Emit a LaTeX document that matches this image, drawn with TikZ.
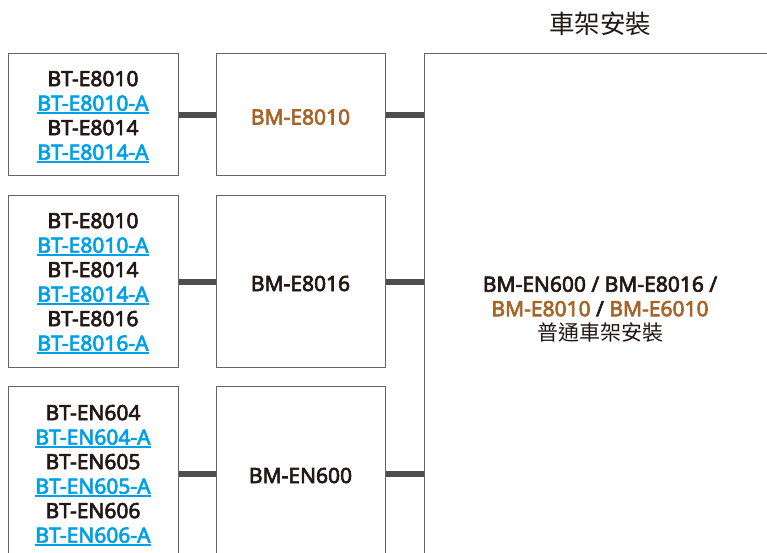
\documentclass[tikz,border=0pt]{standalone}
\usepackage{fontspec}
\setmainfont{Noto Sans}
\newfontfamily\lat{Noto Sans}[FakeBold=3]
\newfontfamily\cjk{Noto Sans CJK TC}
\definecolor{tblue}{RGB}{0,160,233}
\definecolor{tbrown}{RGB}{166,100,40}
\definecolor{ttext}{RGB}{35,24,21}
\definecolor{bordergray}{RGB}{100,100,100}
\definecolor{conncol}{RGB}{77,77,77}
\newcommand\lnk[1]{\setbox0\hbox{#1}\rlap{\raisebox{-3.4pt}{\rule{\wd0}{2pt}}}\box0}
\newcommand\bl[1]{\textcolor{tblue}{\lnk{#1}}}
\newcommand\br[1]{\textcolor{tbrown}{#1}}
\begin{document}
\begin{tikzpicture}[x=1pt,y=1pt,
  box/.style={draw=bordergray, line width=1pt, fill=white, inner sep=0pt,
    align=center, font=\fontsize{21}{24.5}\selectfont\lat, text=ttext},
  conn/.style={draw=conncol, line width=6pt},
  txt/.style={inner sep=0pt, align=center, font=\fontsize{21}{24.5}\selectfont\lat, text=ttext, yshift=-2pt}]
\useasboundingbox (0,0) rectangle (767,552);
\clip (0,0) rectangle (767,552);
\node[font=\fontsize{25.5}{28}\selectfont\cjk, text=ttext] (title) at (600,528) {車架安裝};
% left column
\node[box, minimum width=170, minimum height=122] (a1) at (93,437) {};
\node[box, minimum width=170, minimum height=171] (a2) at (93,270.5) {};
\node[box, minimum width=170, minimum height=175] (a3) at (93,78.5) {};
\node[txt] (ta1) at (a1.center) {BT-E8010\\\bl{BT-E8010-A}\\BT-E8014\\\bl{BT-E8014-A}};
\node[txt] (ta2) at (a2.center) {BT-E8010\\\bl{BT-E8010-A}\\BT-E8014\\\bl{BT-E8014-A}\\BT-E8016\\\bl{BT-E8016-A}};
\node[txt] (ta3) at (a3.center) {BT-EN604\\\bl{BT-EN604-A}\\BT-EN605\\\bl{BT-EN605-A}\\BT-EN606\\\bl{BT-EN606-A}};
% middle column
\node[box, minimum width=169, minimum height=122] (b1) at (300.5,437) {};
\node[box, minimum width=169, minimum height=171] (b2) at (300.5,270.5) {};
\node[box, minimum width=169, minimum height=175] (b3) at (300.5,78.5) {};
\node[txt] (tb1) at (b1.center) {\br{BM-E8010}};
\node[txt] (tb2) at (b2.center) {BM-E8016};
\node[txt] (tb3) at (b3.center) {BM-EN600};
% big box
\node[box, minimum width=352, minimum height=508] (big) at (600,244) {};
\node[txt, yshift=0.5pt] (tbig) at (big.center)
  {BM-EN600 / BM-E8016 /\\\br{BM-E8010} / \br{BM-E6010}\\{\cjk 普通車架安裝}};
% connectors
\draw[conn] (a1.east) -- (b1.west);
\draw[conn] (a2.east) -- (b2.west);
\draw[conn] (a3.east) -- (b3.west);
\draw[conn] (b1.east) -- (b1.east -| big.west);
\draw[conn] (b2.east) -- (b2.east -| big.west);
\draw[conn] (b3.east) -- (b3.east -| big.west);
\end{tikzpicture}
\end{document}
